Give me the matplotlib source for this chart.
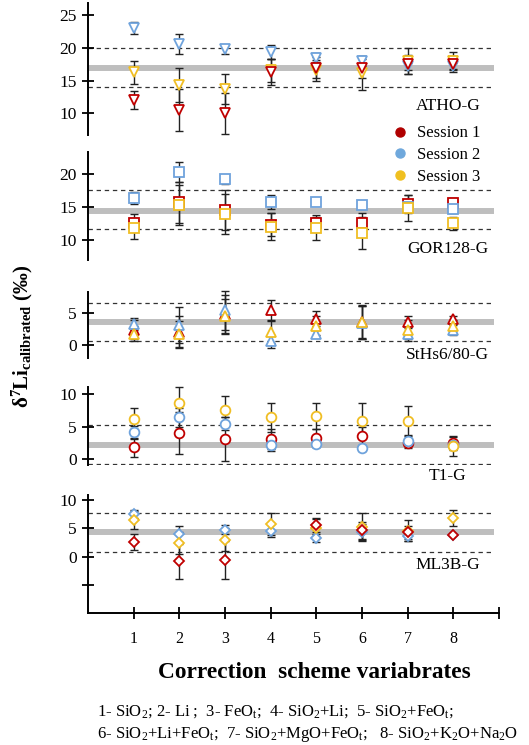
import matplotlib
matplotlib.use('Agg')
import matplotlib.pyplot as plt
from matplotlib.lines import Line2D

plt.rcParams['font.family'] = ['Liberation Serif', 'DejaVu Serif']
plt.rcParams['mathtext.fontset'] = 'custom'
plt.rcParams['mathtext.rm'] = 'Liberation Serif'
plt.rcParams['mathtext.it'] = 'Liberation Serif:italic'
plt.rcParams['mathtext.bf'] = 'Liberation Serif:bold'

# ---------------- data ----------------
schemes = [1, 2, 3, 4, 5, 6, 7, 8]
xtick_labels = ['1', '2', '3', '4', '5', '6', '7', '8']
session_labels = ['Session 1', 'Session 2', 'Session 3']
panel_names = ['ATHO-G', 'GOR128-G', 'StHs6/80-G', 'T1-G', 'ML3B-G']

atho_s1 = [12.1, 10.5, 10.0, 16.4, 17.0, 16.9, 17.5, 17.6]
atho_e1 = [1.4, 3.2, 3.1, 2.0, 1.6, 1.5, 1.5, 1.2]
atho_s2 = [23.1, 20.6, 19.8, 19.4, 18.5, 18.0, 17.2, 17.2]
atho_e2 = [0.9, 1.5, 0.7, 1.1, 0.7, 0.8, 0.5, 0.5]
atho_s3 = [16.3, 14.3, 13.7, 16.6, 16.6, 16.2, 18.0, 18.1]
atho_e3 = [1.8, 2.6, 2.3, 1.8, 1.6, 2.6, 2.0, 1.3]

gor_s1 = [12.6, 15.7, 14.5, 12.3, 12.5, 12.6, 15.4, 15.6]
gor_e1 = [1.3, 3.1, 3.0, 1.8, 1.2, 1.5, 1.4, 0.8]
gor_s2 = [16.4, 20.3, 19.2, 15.7, 15.8, 15.3, 15.0, 14.6]
gor_e2 = [0.9, 1.5, 0.7, 1.1, 0.4, 0.6, 0.5, 0.5]
gor_s3 = [11.7, 15.3, 13.9, 12.0, 11.7, 11.0, 14.8, 12.5]
gor_e3 = [1.6, 3.0, 3.1, 2.0, 1.8, 2.5, 2.0, 1.0]

sths_s1 = [2.4, 2.1, 4.8, 5.4, 4.1, 3.6, 3.6, 4.0]
sths_e1 = [1.5, 2.5, 3.0, 1.6, 1.2, 2.5, 1.0, 0.5]
sths_s2 = [3.3, 3.1, 5.4, 0.6, 1.8, 3.5, 1.8, 2.3]
sths_e2 = [0.9, 2.8, 3.0, 1.0, 0.6, 2.6, 1.2, 0.8]
sths_s3 = [1.8, 1.7, 4.5, 2.1, 3.0, 3.6, 2.4, 2.9]
sths_e3 = [1.2, 2.0, 2.6, 1.8, 1.5, 2.6, 1.5, 1.0]

t1_s1 = [1.8, 4.0, 3.1, 3.1, 3.2, 3.5, 2.5, 2.4]
t1_e1 = [1.4, 3.2, 3.4, 1.5, 1.4, 1.5, 0.8, 1.0]
t1_s2 = [4.1, 6.4, 5.4, 2.2, 2.3, 1.7, 2.8, 2.1]
t1_e2 = [1.0, 1.5, 1.0, 0.9, 0.4, 0.5, 0.8, 0.5]
t1_s3 = [6.2, 8.6, 7.6, 6.4, 6.6, 5.9, 5.9, 2.0]
t1_e3 = [1.6, 2.5, 2.1, 2.2, 2.0, 2.7, 2.2, 1.5]

ml3b_s1 = [2.6, -0.8, -0.6, float('nan'), 5.6, 4.7, 4.3, 3.9]
ml3b_e1 = [1.4, 3.1, 3.3, 0.0, 1.2, 1.5, 1.2, 0.0]
ml3b_s2 = [7.5, 4.0, 4.8, 4.6, 3.3, 4.4, 3.7, 3.9]
ml3b_e2 = [0.7, 1.4, 0.8, 1.2, 0.7, 1.4, 1.0, 0.0]
ml3b_s3 = [6.5, 2.4, 3.0, 5.8, 5.0, 5.3, 4.6, 6.8]
ml3b_e3 = [1.6, 1.9, 2.0, 2.0, 1.6, 2.5, 1.9, 1.4]

ref_mean = [17.0, 14.4, 3.6, 2.1, 4.4]
ref_upper = [20.0, 17.5, 6.6, 5.2, 7.8]
ref_lower = [14.1, 11.6, 0.7, -0.7, 0.9]

panels = [
    (atho_s1, atho_e1, atho_s2, atho_e2, atho_s3, atho_e3),
    (gor_s1, gor_e1, gor_s2, gor_e2, gor_s3, gor_e3),
    (sths_s1, sths_e1, sths_s2, sths_e2, sths_s3, sths_e3),
    (t1_s1, t1_e1, t1_s2, t1_e2, t1_s3, t1_e3),
    (ml3b_s1, ml3b_e1, ml3b_s2, ml3b_e2, ml3b_s3, ml3b_e3),
]

# ---------------- style ----------------
W, H = 529, 745
colors = ['#C00000', '#6FA3DC', '#F0BE24']
legend_colors = ['#B00000', '#6FA8DC', '#F0C020']
markers = ['v', 's', '^', 'o', 'D']
msizes = [7.5, 6.5, 7.5, 7.0, 5.5]
zorders = [(6, 4, 5), (4, 5, 6), (4, 5, 6), (4, 5, 6), (6, 4, 5)]
pix = [(3, 135), (151.7, 260), (291.7, 358), (386.7, 465), (495, 613.3)]
ylims = [(6.7, 26.9), (6.9, 23.4), (-2.0, 8.3), (-0.9, 11.1), (-10, 10.9)]
yticks = [[10, 15, 20, 25], [10, 15, 20], [0, 5], [0, 5, 10], [-5, 0, 5, 10]]
yticklabels = [['10', '15', '20', '25'], ['10', '15', '20'], ['0', '5'],
               ['0', '5', '10'], ['', '0', '5', '10']]
label_y = [11.1, 8.5, -1.6, -2.55, -1.4]
left_px, right_px = 88, 499
line_end = 8.9

fig = plt.figure(figsize=(W / 100, H / 100), dpi=100)

for i in range(5):
    top, bot = pix[i]
    ax = fig.add_axes([left_px / W, (H - bot) / H, (right_px - left_px) / W, (bot - top) / H])
    ax.set_xlim(0, 9)
    ax.set_ylim(*ylims[i])
    for s in ['top', 'right']:
        ax.spines[s].set_visible(False)
    ax.spines['left'].set_linewidth(1.4)
    ax.set_yticks(yticks[i])
    ax.set_yticklabels(yticklabels[i], fontsize=12.5)
    ax.tick_params(axis='y', direction='inout', length=8, width=1.3, pad=4)
    if i < 4:
        ax.spines['bottom'].set_visible(False)
        ax.set_xticks([])
    else:
        ax.spines['bottom'].set_linewidth(1.4)
        ax.set_xticks(schemes + [9])
        ax.set_xticklabels(xtick_labels + [''], fontsize=11.5)
        ax.tick_params(axis='x', direction='inout', length=8, width=1.3, pad=9)

    ax.hlines(ref_mean[i], 0, line_end, color='#BEBEBE', lw=4.3, zorder=1)
    ax.hlines([ref_upper[i], ref_lower[i]], 0, line_end, color='#333333', lw=0.9,
              linestyles=(0, (3.5, 3)), zorder=1)

    s1, e1, s2, e2, s3, e3 = panels[i]
    series = [(s1, e1), (s2, e2), (s3, e3)]
    for k, (vals, errs) in enumerate(series):
        ax.errorbar(schemes, vals, yerr=errs, fmt='none', ecolor='#222222',
                    elinewidth=1.0, capsize=2.8, capthick=1.0, zorder=2, clip_on=False)
    for k, (vals, errs) in enumerate(series):
        ax.plot(schemes, vals, linestyle='none', marker=markers[i], ms=msizes[i],
                mfc='white', mec=colors[k], mew=1.3, zorder=zorders[i][k], clip_on=False)

    ax.text(7.88, label_y[i], panel_names[i], ha='center', va='center', fontsize=12.5)

handles = [Line2D([], [], linestyle='none', marker='o', ms=6.5, mfc=c, mec=c)
           for c in legend_colors]
fig.legend(handles, session_labels, loc='upper left',
           bbox_to_anchor=(379 / W, (H - 117) / H), frameon=False, fontsize=12,
           handletextpad=0.3, labelspacing=0.35, handlelength=1.5, borderpad=0)

fig.text(22 / W, (H - 336) / H, r'$\mathbf{\delta^7Li_{calibrated}}$ (‰)',
         rotation=90, ha='center', va='center', fontsize=15, fontweight='bold')

fig.text(314 / W, (H - 673) / H, 'Correction  scheme variabrates',
         ha='center', va='center', fontsize=16.8, fontweight='bold')

fig.text(97 / W, (H - 712) / H,
         r'1- SiO$_2$; 2- Li ;  3- FeO$_\mathrm{t}$;  4- SiO$_2$+Li;  5- SiO$_2$+FeO$_\mathrm{t}$;',
         ha='left', va='center', fontsize=12)
fig.text(97 / W, (H - 735) / H,
         r'6- SiO$_2$+Li+FeO$_\mathrm{t}$;  7- SiO$_2$+MgO+FeO$_\mathrm{t}$;   8- SiO$_2$+K$_2$O+Na$_2$O',
         ha='left', va='center', fontsize=12)

fig.savefig('out.png', dpi=100)
